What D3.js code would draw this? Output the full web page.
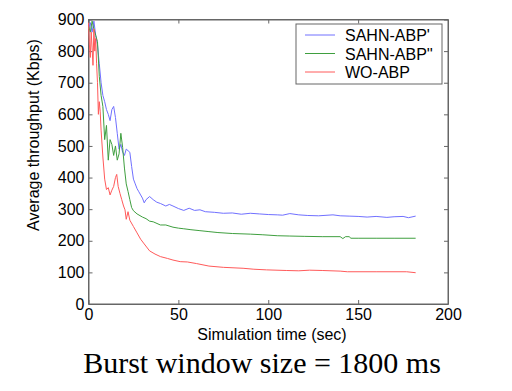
<!DOCTYPE html>
<html>
<head>
<meta charset="utf-8">
<script src="https://cdn.jsdelivr.net/npm/d3@7"></script>
<style>
  body { margin: 0; background: #fff; }
  text { font-family: "Liberation Sans", Arial, sans-serif; }
</style>
</head>
<body>
<script>
// data
const blueT = [0,1,2,3,4,5,6,7,8,9,10,11,12,13,14,15,16,17,18,19,20,21,22,23,24,25,26,27,28,29,30,31,32,34,36,38,40,43,45,47,50,53,56,59,62,65,70,75,80,85,90,95,100,105,108,112,117,122,128,136,140,145,150,155,160,166,170,175,178,182];
const blueV = [870,890,860,895,850,820,760,700,660,640,615,600,580,615,625,590,540,490,505,480,470,490,485,480,435,395,380,365,355,345,335,320,330,340,330,322,318,310,315,310,302,296,303,296,298,292,290,287,288,284,287,285,283,282,281,286,282,280,279,282,279,278,277,275,277,274,276,277,273,278];

const greenT = [0,1,2,3,4,5,6,7,8,9,10,11,12,13,14,15,16,17,18,19,20,21,22,23,24,25,27,30,32,34,36,40,43,47,50,53,57,62,67,72,80,90,97,105,112,120,130,140,141.5,143,145,146,150,160,170,182];
const greenV = [880,860,895,870,850,830,720,660,625,520,565,455,520,505,470,500,455,475,540,495,430,380,356,330,305,295,285,275,270,262,260,250,250,243,240,238,235,232,229,226,223,221,219,216,215,214,213,213,207,213,213,208,208,208,208,208];

const redT = [0,0.5,1,1.5,2,2.5,3,3.5,4,4.5,5,5.5,6,6.5,7,8,9,10,11,12,13,14,15,15.7,16.5,17.5,18.5,19.5,20.3,21,22,23,25,27,29,31,34,37,40,44,47,51,55,60,67,75,86,92,99,110,117,123,130,140,144,160,177,182];
const redV = [890,820,780,860,810,755,870,800,840,760,700,600,640,610,550,465,395,362,368,345,360,372,400,410,372,350,330,310,298,268,292,265,245,225,205,190,168,158,150,144,139,134,133,128,120,116,113,110,108,106,105,107,106,104,102,102,102,99];

const seriesNames = ["SAHN-ABP'", "SAHN-ABP''", "WO-ABP"];
const seriesColors = ["#7070ff", "#3f9f3f", "#ff5a5a"];
const xTicks = [0, 50, 100, 150, 200];
const yTicks = [0, 100, 200, 300, 400, 500, 600, 700, 800, 900];

const width = 512, height = 391;
const margin = { top: 19.5, right: 64, bottom: 87, left: 88.5 };

const svg = d3.select('body')
  .append('svg')
    .attr('width', width)
    .attr('height', height);

const x = d3.scaleLinear().domain([0, 200]).range([margin.left, width - margin.right]);
const y = d3.scaleLinear().domain([0, 900]).range([height - margin.bottom, margin.top]);

// frame
svg.append('rect')
  .attr('x', x(0)).attr('y', y(900))
  .attr('width', x(200) - x(0)).attr('height', y(0) - y(900))
  .attr('fill', 'none').attr('stroke', '#666').attr('stroke-width', 1);

function styleAxis(g) {
  g.select('.domain').attr('stroke', '#666');
  g.selectAll('.tick line').attr('stroke', '#666');
  g.selectAll('.tick text').attr('fill', '#000').style('font-size', '16px')
    .style('font-family', '"Liberation Sans", Arial, sans-serif');
}

svg.append('g')
  .attr('transform', `translate(0,${y(0)})`)
  .call(d3.axisBottom(x).tickValues(xTicks).tickSize(-4).tickSizeOuter(0).tickPadding(5))
  .call(styleAxis);

svg.append('g')
  .attr('transform', `translate(0,${y(900)})`)
  .call(d3.axisTop(x).tickValues(xTicks).tickSize(-4).tickSizeOuter(0).tickFormat(''))
  .call(styleAxis);

svg.append('g')
  .attr('transform', `translate(${x(0)},0)`)
  .call(d3.axisLeft(y).tickValues(yTicks).tickSize(-4).tickSizeOuter(0).tickPadding(4))
  .call(styleAxis);

svg.append('g')
  .attr('transform', `translate(${x(200)},0)`)
  .call(d3.axisRight(y).tickValues(yTicks).tickSize(-4).tickSizeOuter(0).tickFormat(''))
  .call(styleAxis);

// lines
const line = d3.line().x(d => x(d[0])).y(d => y(d[1]));
const series = [
  d3.zip(blueT, blueV),
  d3.zip(greenT, greenV),
  d3.zip(redT, redV)
];
series.forEach((s, i) => {
  svg.append('path')
    .datum(s)
    .attr('fill', 'none')
    .attr('stroke', seriesColors[i])
    .attr('stroke-width', 1)
    .attr('d', line);
});

// legend
const lg = svg.append('g').attr('transform', 'translate(296,24)');
lg.append('rect')
  .attr('width', 146).attr('height', 60)
  .attr('fill', '#fff').attr('stroke', '#666');
seriesNames.forEach((n, i) => {
  const yy = 11 + i * 18.5;
  lg.append('line')
    .attr('x1', 9).attr('x2', 39).attr('y1', yy).attr('y2', yy)
    .attr('stroke', seriesColors[i]).attr('stroke-width', 1);
  lg.append('text')
    .attr('x', 49).attr('y', yy + 6)
    .style('font-size', '16px')
    .text(n);
});

// labels
svg.append('text')
  .attr('x', 272).attr('y', 340)
  .attr('text-anchor', 'middle')
  .style('font-size', '16px')
  .text('Simulation time (sec)');

svg.append('text')
  .attr('transform', 'translate(39,135) rotate(-90)')
  .attr('text-anchor', 'middle')
  .style('font-size', '16px')
  .text('Average throughput (Kbps)');

svg.append('text')
  .attr('x', 262).attr('y', 373)
  .attr('text-anchor', 'middle')
  .style('font-family', '"Liberation Serif", "Times New Roman", serif')
  .style('font-size', '30px')
  .text('Burst window size = 1800 ms');
</script>
</body>
</html>
